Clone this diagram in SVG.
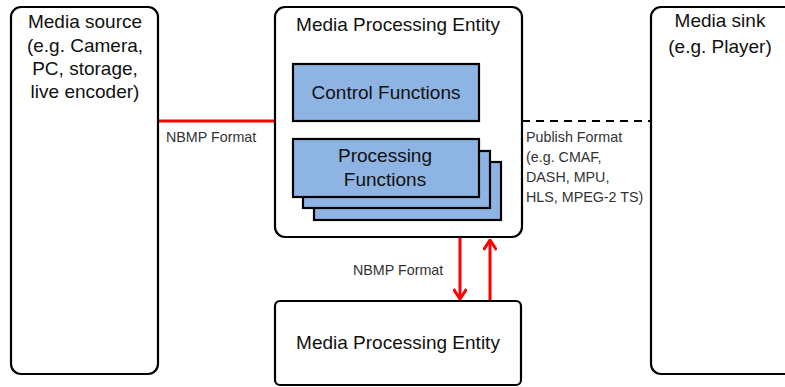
<svg xmlns="http://www.w3.org/2000/svg" width="785" height="387" viewBox="0 0 785 387">
  <style>
    .box { fill: #ffffff; stroke: #000000; stroke-width: 2.2; }
    .fn { fill: #8eb4e3; stroke: #000000; stroke-width: 2.2; }
    .big { font-family: "Liberation Sans", Arial, sans-serif; font-size: 19px; fill: #111111; text-anchor: middle; }
    .small { font-family: "Liberation Sans", Arial, sans-serif; font-size: 14.3px; fill: #333333; }
    .red { stroke: #ff0000; stroke-width: 3; fill: none; }
  </style>
  <defs>
    <marker id="chev" viewBox="0 0 12 14" refX="11" refY="7" markerWidth="12" markerHeight="14" markerUnits="userSpaceOnUse" orient="auto">
      <path d="M1,0.5 L11,7 L1,13.5" fill="none" stroke="#ff0000" stroke-width="3"/>
    </marker>
  </defs>
  <rect width="785" height="387" fill="#ffffff"/>

  <g id="connectors">
    <line class="red" x1="159" y1="121" x2="275" y2="121"/>
    <line x1="522" y1="121" x2="651" y2="121" stroke="#000000" stroke-width="2.2" stroke-dasharray="8,6"/>
    <line class="red" x1="460" y1="238" x2="460" y2="299" marker-end="url(#chev)"/>
    <line class="red" x1="490" y1="301" x2="490" y2="240" marker-end="url(#chev)"/>
    <text class="small" x="166" y="142">NBMP Format</text>
    <text class="small" x="353" y="275">NBMP Format</text>
    <text class="small" x="526" y="142">Publish Format</text>
    <text class="small" x="526" y="162">(e.g. CMAF,</text>
    <text class="small" x="526" y="182">DASH, MPU,</text>
    <text class="small" x="526" y="202">HLS, MPEG-2 TS)</text>
  </g>

  <g id="media-source">
    <rect class="box" x="11" y="7" width="147" height="367" rx="10"/>
    <text class="big" x="85" y="28">Media source</text>
    <text class="big" x="85" y="52">(e.g. Camera,</text>
    <text class="big" x="85" y="75">PC, storage,</text>
    <text class="big" x="85" y="98">live encoder)</text>
  </g>

  <g id="mpe-main">
    <rect class="box" x="275" y="7" width="247" height="230" rx="10"/>
    <text class="big" x="398" y="31">Media Processing Entity</text>
    <g id="control-functions">
      <rect class="fn" x="293" y="64" width="186" height="57"/>
      <text class="big" x="386" y="99">Control Functions</text>
    </g>
    <g id="processing-functions">
      <rect class="fn" x="314" y="162" width="187" height="58"/>
      <rect class="fn" x="303" y="151" width="187" height="57"/>
      <rect class="fn" x="293" y="139" width="186" height="58"/>
      <text class="big" x="385" y="162">Processing</text>
      <text class="big" x="385" y="186">Functions</text>
    </g>
  </g>

  <g id="media-sink">
    <rect class="box" x="651" y="7" width="150" height="367" rx="10"/>
    <text class="big" x="720" y="27">Media sink</text>
    <text class="big" x="720" y="53">(e.g. Player)</text>
  </g>

  <g id="mpe-second">
    <rect class="box" x="275" y="301" width="246" height="84" rx="5"/>
    <text class="big" x="398" y="349">Media Processing Entity</text>
  </g>
</svg>
